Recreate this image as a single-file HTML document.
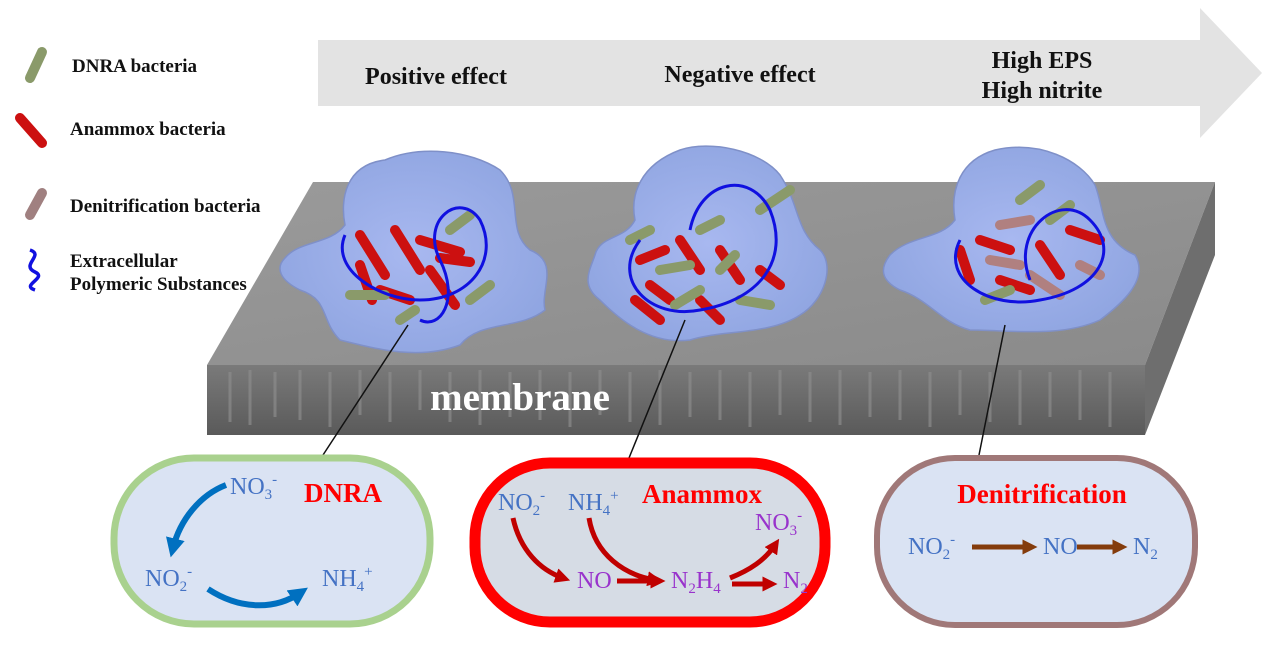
<!DOCTYPE html>
<html><head><meta charset="utf-8"><style>
body{margin:0;width:1268px;height:649px;background:#fff;overflow:hidden;font-family:"Liberation Serif",serif;}
svg{position:absolute;left:0;top:0}
</style></head><body>
<svg width="1268" height="649" viewBox="0 0 1268 649" font-family="Liberation Serif, serif">
<defs>
<linearGradient id="front" x1="0" y1="0" x2="0" y2="1"><stop offset="0" stop-color="#7a7a7a"/><stop offset="1" stop-color="#5a5a5a"/></linearGradient>
<linearGradient id="top" x1="0" y1="0" x2="1" y2="1"><stop offset="0" stop-color="#9a9a9a"/><stop offset="1" stop-color="#8a8a8a"/></linearGradient>
<radialGradient id="blob" cx="0.5" cy="0.5" r="0.6"><stop offset="0" stop-color="#a8b8f0"/><stop offset="1" stop-color="#8ea4e0"/></radialGradient>
<marker id="ab" viewBox="0 0 10 10" refX="5" refY="5" markerWidth="3.2" markerHeight="3.2" orient="auto"><path d="M0,0L10,5L0,10z" fill="#0070c0"/></marker>
<marker id="ar" viewBox="0 0 10 10" refX="5" refY="5" markerWidth="3" markerHeight="3" orient="auto"><path d="M0,0L10,5L0,10z" fill="#c00000"/></marker>
<marker id="an" viewBox="0 0 10 10" refX="5" refY="5" markerWidth="3" markerHeight="3" orient="auto"><path d="M0,0L10,5L0,10z" fill="#843c0c"/></marker>
</defs>
<path d="M318,40 L1200,40 L1200,8 L1262,73 L1200,138 L1200,106 L318,106 Z" fill="#e3e3e3"/>
<g font-weight="bold" font-size="24" fill="#111">
<text x="436" y="84" text-anchor="middle">Positive effect</text>
<text x="740" y="82" text-anchor="middle">Negative effect</text>
<text x="1042" y="68" text-anchor="middle">High EPS</text>
<text x="1042" y="98" text-anchor="middle">High nitrite</text>
</g>
<path d="M313,182 L1215,182 L1145,365 L207,365 Z" fill="url(#top)"/>
<path d="M1215,182 L1215,255 L1145,435 L1145,365 Z" fill="#6e6e6e"/>
<rect x="207" y="365" width="938" height="70" fill="url(#front)"/>
<g stroke="#8c8c8c" stroke-width="3" fill="none" opacity="0.7">
<path d="M230,372v50M250,370v55M275,372v45M300,370v50M330,372v55M360,370v45M390,372v50M420,370v40M450,372v50M480,370v55M510,372v45M540,370v50M570,372v55M600,370v45M630,372v50M660,370v55M690,372v45M720,370v50M750,372v55M780,370v45M810,372v50M840,370v55M870,372v45M900,370v50M930,372v55M960,370v45M990,372v50M1020,370v55M1050,372v45M1080,370v50M1110,372v55"/>
</g>
<text x="520" y="410" text-anchor="middle" font-size="39" font-weight="bold" fill="#fff">membrane</text>
<g fill="url(#blob)" stroke="#7f90c8" stroke-width="1.5">
<path d="M285,258 C300,240 330,245 345,225 C340,200 345,165 385,160 C420,145 470,150 500,170 C525,195 505,230 530,250 C560,262 540,290 545,310 C520,330 480,320 460,345 C420,360 380,350 340,340 C320,320 330,300 300,290 C280,280 275,268 285,258 Z"/>
<path d="M595,255 C600,235 625,240 635,220 C630,195 640,165 680,150 C710,140 760,150 780,175 C800,205 795,230 820,250 C835,265 825,300 800,315 C770,335 720,330 690,340 C650,345 620,320 600,300 C580,285 590,270 595,255 Z"/>
<path d="M890,255 C910,235 940,240 955,220 C950,190 960,160 995,150 C1040,140 1080,160 1095,185 C1105,210 1100,240 1135,255 C1150,280 1120,305 1100,320 C1060,338 1010,330 970,330 C940,322 930,300 900,290 C880,280 880,268 890,255 Z"/>
</g>
<g stroke-linecap="round" stroke-width="10">
<path d="M360,235 L385,275 M395,230 L420,270 M420,240 L460,252 M440,258 L470,262 M380,290 L410,300 M430,270 L455,305 M360,265 L372,300" stroke="#cc1010"/>
<path d="M350,295 L385,295 M400,320 L415,310 M470,300 L490,285 M450,230 L470,215" stroke="#8a9a6a"/>
<path d="M640,260 L665,250 M680,240 L700,270 M650,285 L670,300 M720,250 L740,280 M700,300 L720,320 M760,270 L780,285 M635,300 L660,320" stroke="#cc1010"/>
<path d="M630,240 L650,230 M660,270 L690,265 M700,230 L720,220 M740,300 L770,305 M760,210 L790,190 M675,305 L700,290 M720,270 L735,255" stroke="#8a9a6a"/>
<path d="M960,250 L970,280 M980,240 L1010,250 M1040,245 L1060,275 M1000,280 L1030,290 M1070,230 L1100,240" stroke="#cc1010"/>
<path d="M990,260 L1020,265 M1030,275 L1060,295 M1000,225 L1030,220 M1080,265 L1100,275" stroke="#b08080"/>
<path d="M985,300 L1010,290 M1050,220 L1070,205 M1020,200 L1040,185" stroke="#8a9a6a"/>
</g>
<g fill="none" stroke="#1010e0" stroke-width="3">
<path d="M345,235 C330,270 380,300 420,300 C470,300 500,260 480,220 C460,190 420,220 440,260 C460,300 440,330 420,320"/>
<path d="M640,240 C610,280 650,320 700,310 C760,300 790,260 770,210 C750,170 700,180 690,230"/>
<path d="M960,240 C940,280 990,310 1040,300 C1100,290 1120,250 1090,220 C1060,190 1010,230 1030,280"/>
</g>
<g font-weight="bold" font-size="19" fill="#111">
<text x="72" y="72">DNRA bacteria</text>
<text x="70" y="135">Anammox bacteria</text>
<text x="70" y="212">Denitrification bacteria</text>
<text x="70" y="267">Extracellular</text>
<text x="70" y="290">Polymeric Substances</text>
</g>
<g stroke-linecap="round">
<path d="M42,52 L30,78" stroke="#8a9a6a" stroke-width="10"/>
<path d="M20,118 L42,143" stroke="#cc1010" stroke-width="10"/>
<path d="M42,193 L30,215" stroke="#a08080" stroke-width="10"/>
</g>
<path d="M30,250 C45,255 20,265 35,272 C48,278 20,285 35,290" stroke="#1010e0" stroke-width="3.5" fill="none"/>
<g stroke="#111" stroke-width="1.5">
<line x1="408" y1="325" x2="323" y2="455"/>
<line x1="685" y1="320" x2="629" y2="458"/>
<line x1="1005" y1="325" x2="979" y2="455"/>
</g>
<rect x="114" y="458" width="316" height="166" rx="80" fill="#dae3f3" stroke="#a9d18e" stroke-width="7"/>
<rect x="475" y="463" width="350" height="159" rx="75" fill="#d6dce5" stroke="#ff0000" stroke-width="11"/>
<rect x="877" y="458" width="318" height="167" rx="78" fill="#dae3f3" stroke="#a07878" stroke-width="6"/>
<g fill="#4472c4" font-size="24">
<text x="230" y="494">NO<tspan font-size="15" dy="5">3</tspan><tspan font-size="15" dy="-15">-</tspan></text>
<text x="145" y="586">NO<tspan font-size="15" dy="5">2</tspan><tspan font-size="15" dy="-15">-</tspan></text>
<text x="322" y="586">NH<tspan font-size="15" dy="5">4</tspan><tspan font-size="15" dy="-15">+</tspan></text>
</g>
<text x="304" y="502" font-size="27" font-weight="bold" fill="#ff0000">DNRA</text>
<path d="M226,485 C200,495 180,520 173,548" stroke="#0070c0" stroke-width="6" fill="none" marker-end="url(#ab)"/>
<path d="M208,589 C240,610 275,610 300,593" stroke="#0070c0" stroke-width="6" fill="none" marker-end="url(#ab)"/>
<g font-size="24">
<text x="498" y="510" fill="#4472c4">NO<tspan font-size="15" dy="5">2</tspan><tspan font-size="15" dy="-15">-</tspan></text>
<text x="568" y="510" fill="#4472c4">NH<tspan font-size="15" dy="5">4</tspan><tspan font-size="15" dy="-15">+</tspan></text>
<text x="577" y="588" fill="#9933cc">NO</text>
<text x="671" y="588" fill="#9933cc">N<tspan font-size="15" dy="5">2</tspan><tspan dy="-5">H</tspan><tspan font-size="15" dy="5">4</tspan></text>
<text x="755" y="530" fill="#9933cc">NO<tspan font-size="15" dy="5">3</tspan><tspan font-size="15" dy="-15">-</tspan></text>
<text x="783" y="588" fill="#9933cc">N<tspan font-size="15" dy="5">2</tspan></text>
</g>
<text x="642" y="503" font-size="27" font-weight="bold" fill="#ff0000">Anammox</text>
<g stroke="#c00000" stroke-width="5" fill="none">
<path d="M513,518 C520,550 540,570 563,578" marker-end="url(#ar)"/>
<path d="M589,518 C595,555 625,575 655,580" marker-end="url(#ar)"/>
<path d="M617,581 L658,581" marker-end="url(#ar)"/>
<path d="M730,578 C750,570 765,560 775,545" marker-end="url(#ar)"/>
<path d="M732,584 L770,584" marker-end="url(#ar)"/>
</g>
<text x="1042" y="503" text-anchor="middle" font-size="27" font-weight="bold" fill="#ff0000">Denitrification</text>
<g fill="#4472c4" font-size="24">
<text x="908" y="554">NO<tspan font-size="15" dy="5">2</tspan><tspan font-size="15" dy="-15">-</tspan></text>
<text x="1043" y="554">NO</text>
<text x="1133" y="554">N<tspan font-size="15" dy="5">2</tspan></text>
</g>
<g stroke="#843c0c" stroke-width="5">
<line x1="972" y1="547" x2="1030" y2="547" marker-end="url(#an)"/>
<line x1="1077" y1="547" x2="1120" y2="547" marker-end="url(#an)"/>
</g>
</svg>
</body></html>
